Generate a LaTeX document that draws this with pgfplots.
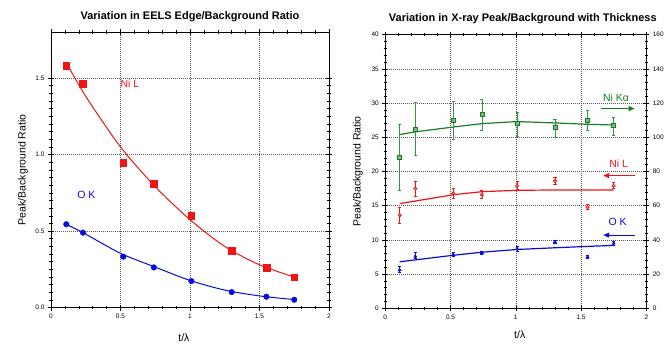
\documentclass[border=0pt]{standalone}
\usepackage{pgfplots}
\pgfplotsset{compat=1.18}
\usepackage{fontspec}
\setmainfont{Liberation Sans}
\usetikzlibrary{arrows.meta}
\definecolor{cred}{RGB}{240,20,20}
\definecolor{cblue}{RGB}{10,10,220}
\definecolor{cgreen}{RGB}{25,125,35}
\pgfplotsset{
  base/.style={scale only axis, xmin=0, xmax=2,
    xtick={0,0.5,1,1.5,2}, minor x tick num=4,
    grid=major,
    major grid style={dash pattern=on 1pt off 1pt, black!65, line width=0.6pt},
    tick align=center, major tick length=6pt, minor tick length=3.5pt,
    every tick/.style={black, line width=0.6pt},
    axis line style={line width=0.8pt},
    ticklabel style={font=\fontsize{6.5}{7.5}\selectfont},
    label style={font=\fontsize{10.5}{12}\selectfont},
    title style={font=\bfseries\fontsize{11}{13}\selectfont, at={(axis description cs:0.5,1)}, anchor=south, yshift=1pt},
    /pgf/number format/assume math mode=true,
    xlabel={t/λ}, ylabel={Peak/Background Ratio}},
  ebar/.style={error bars/.cd, y dir=both, y explicit, error mark options={rotate=90, mark size=1.6pt, line width=0.6pt, #1}, error bar style={line width=0.7pt, #1}}
}
\begin{document}
\begin{tikzpicture}
\useasboundingbox (0,0) rectangle (666pt,343pt);
% ---------- left chart ----------
\begin{axis}[base, at={(51pt,35.3pt)}, anchor=south west, width=278pt, height=275.7pt,
  ymin=0, ymax=1.8, ytick={0,0.5,1,1.5}, minor y tick num=9,
  yticklabel style={/pgf/number format/.cd, fixed, fixed zerofill, precision=1},
  title={Variation in EELS Edge/Background Ratio},
  xlabel style={at={(axis description cs:0.478,-0.11)}, anchor=center},
  ylabel style={at={(axis description cs:-0.101,0.5)}, anchor=center}]
\addplot[cred, line width=1pt, smooth] coordinates {(0.11,1.60) (0.25,1.38) (0.5,1.05) (0.75,0.79) (1.0,0.575) (1.25,0.40) (1.5,0.28) (1.75,0.20)};
\addplot[cred, only marks, mark=square*, mark size=3.3pt] coordinates {(0.11,1.58) (0.23,1.461) (0.52,0.947) (0.74,0.808) (1.01,0.599) (1.30,0.372) (1.55,0.261) (1.75,0.20)};
\addplot[cblue, line width=1pt, smooth] coordinates {(0.11,0.545) (0.25,0.48) (0.5,0.355) (0.75,0.265) (1.0,0.178) (1.25,0.115) (1.5,0.077) (1.75,0.053)};
\addplot[cblue, only marks, mark=*, mark size=2.8pt] coordinates {(0.11,0.545) (0.23,0.49) (0.52,0.333) (0.74,0.263) (1.01,0.174) (1.30,0.102) (1.55,0.072) (1.75,0.052)};
\node[cred, font=\fontsize{10.5}{12}\selectfont] at (axis cs:0.568,1.46) {Ni L};
\node[cblue, font=\fontsize{10.5}{12}\selectfont] at (axis cs:0.255,0.737) {O K};
\end{axis}
% ---------- right chart ----------
\begin{axis}[base, at={(385.3pt,34.7pt)}, anchor=south west, width=261pt, height=273.6pt,
  ymin=0, ymax=40, ytick={0,5,...,40}, minor y tick num=4, ytick pos=left,
  title={Variation in X-ray Peak/Background with Thickness},
  title style={xshift=7pt},
  xlabel style={at={(axis description cs:0.515,-0.098)}, anchor=center},
  ylabel style={at={(axis description cs:-0.105,0.5)}, anchor=center}]
% Ni Ka
\addplot[cgreen, line width=1.2pt] coordinates {(0.11,25.4) (0.23,25.8) (0.52,26.5) (0.74,27.0) (1.01,27.3) (1.30,27.1) (1.55,26.9) (1.75,26.8)};
\addplot[cgreen, only marks, mark=square*, mark size=2pt, mark options={fill=cgreen!55, draw=cgreen, line width=0.6pt}, ebar={cgreen!85!white}]
 coordinates {(0.11,22.1) += (0,4.8) -= (0,4.9)
  (0.23,26.2) += (0,3.9) -= (0,3.9)
  (0.52,27.5) += (0,2.7) -= (0,2.85)
  (0.74,28.4) += (0,2.2) -= (0,2.4)
  (1.01,27.1) += (0,1.6) -= (0,1.9)
  (1.30,26.4) += (0,1.3) -= (0,1.4)
  (1.55,27.5) += (0,1.4) -= (0,1.5)
  (1.75,26.7) += (0,1.2) -= (0,1.4)};
% Ni L
\addplot[cred, line width=1.2pt] coordinates {(0.11,15.3) (0.52,16.6) (0.74,17.05) (1.01,17.25) (1.30,17.3) (1.55,17.3) (1.75,17.3)};
\addplot[cred, only marks, mark=*, mark size=1.7pt, mark options={fill=cred!60, draw=cred, line width=0.6pt}, ebar={cred}]
 coordinates {(0.11,13.6) += (0,1.1) -= (0,1.1)
  (0.23,17.5) += (0,1.1) -= (0,1.1)
  (0.52,16.8) += (0,0.7) -= (0,0.7)
  (0.74,16.6) += (0,0.6) -= (0,0.5)
  (1.01,17.9) += (0,0.7) -= (0,0.5)
  (1.30,18.6) += (0,0.5) -= (0,0.5)
  (1.55,14.8) += (0,0.4) -= (0,0.3)
  (1.75,17.9) += (0,0.5) -= (0,0.4)};
% O K
\addplot[cblue, line width=1.2pt] coordinates {(0.11,6.8) (0.52,7.75) (0.74,8.2) (1.01,8.6) (1.30,8.85) (1.55,9.05) (1.75,9.2)};
\addplot[cblue, only marks, mark=triangle*, mark size=1.9pt, ebar={cblue}]
 coordinates {(0.11,5.6) += (0,0.55) -= (0,0.35)
  (0.23,7.6) += (0,0.6) -= (0,0.35)
  (0.52,7.85) += (0,0.35) -= (0,0.25)
  (0.74,8.1) += (0,0.2) -= (0,0.2)
  (1.01,8.7) += (0,0.3) -= (0,0.3)
  (1.30,9.7) += (0,0.3) -= (0,0.25)
  (1.55,7.5) += (0,0.2) -= (0,0.2)
  (1.75,9.5) += (0,0.3) -= (0,0.3)};
\node[cgreen, font=\fontsize{10.5}{12}\selectfont] at (axis cs:1.768,30.8) {Ni Kα};
\draw[cgreen, line width=1.2pt, -{Triangle[length=6pt,width=5pt]}] (axis cs:1.655,29.2) -- (axis cs:1.911,29.2);
\node[cred, font=\fontsize{10.5}{12}\selectfont] at (axis cs:1.788,21.2) {Ni L};
\draw[cred, line width=1.2pt, -{Triangle[length=6pt,width=5pt]}] (axis cs:1.911,19.4) -- (axis cs:1.67,19.4);
\node[cblue, font=\fontsize{10.5}{12}\selectfont] at (axis cs:1.78,12.7) {O K};
\draw[cblue, line width=1.2pt, -{Triangle[length=6pt,width=5pt]}] (axis cs:1.911,10.7) -- (axis cs:1.67,10.7);
\end{axis}
\begin{axis}[scale only axis, at={(385.3pt,34.7pt)}, anchor=south west, width=261pt, height=273.6pt,
  xmin=0, xmax=2, ymin=0, ymax=160, ytick={0,20,...,160}, minor y tick num=4,
  axis y line*=right, hide x axis, ytick pos=right,
  tick align=center, major tick length=6pt, minor tick length=3.5pt,
  every tick/.style={black, line width=0.6pt},
  axis line style={line width=0.8pt},
  ticklabel style={font=\fontsize{6.5}{7.5}\selectfont},
  /pgf/number format/assume math mode=true]
\addplot[draw=none] coordinates {(0,0)};
\end{axis}
\end{tikzpicture}
\end{document}
